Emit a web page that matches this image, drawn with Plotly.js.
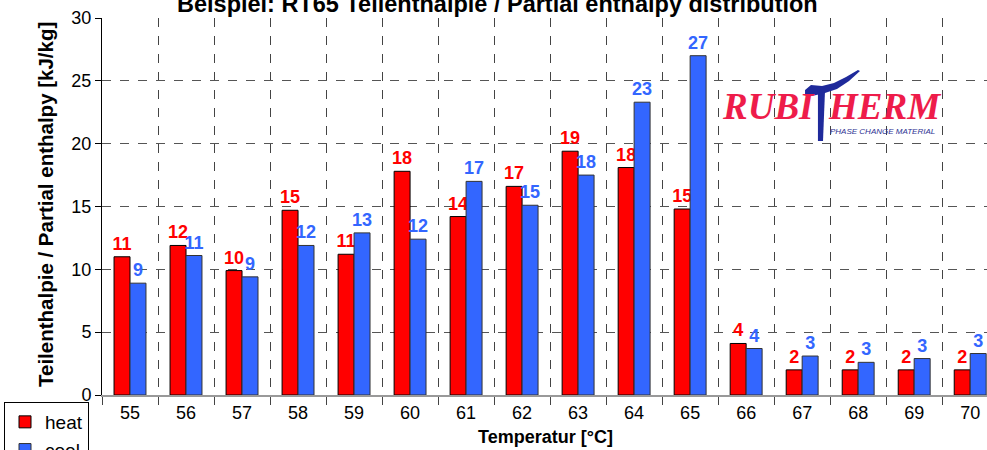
<!DOCTYPE html>
<html>
<head>
<meta charset="utf-8">
<script src="https://cdn.plot.ly/plotly-3.0.1.min.js"></script>
<style>html,body{margin:0;padding:0;background:#fff;overflow:hidden}#chart{width:987px;height:450px}</style>
</head>
<body>
<div id="chart"></div>
<script>
const categories = ["55","56","57","58","59","60","61","62","63","64","65","66","67","68","69","70"];
const heat = [11.0, 11.9, 9.9, 14.7, 11.2, 17.8, 14.2, 16.6, 19.4, 18.1, 14.8, 4.1, 2.0, 2.0, 2.0, 2.0];
const cool = [8.9, 11.1, 9.4, 11.9, 12.9, 12.4, 17.0, 15.1, 17.5, 23.3, 27.0, 3.7, 3.1, 2.6, 2.9, 3.3];
const seriesNames = ["heat", "cool"];
const titleText = "Beispiel: RT65 Teilenthalpie / Partial enthalpy distribution";
const yTitle = "Teilenthalpie / Partial enthalpy [kJ/kg]";
const xTitle = "Temperatur [°C]";

const FONT = "Liberation Sans, Arial, sans-serif";
const L = 102, R = 987, T = 18, B = 395;
const px = x => (x - L) / (R - L);
const py = y => (B - y) / (B - T);

const traces = [
  {
    type: "bar", name: seriesNames[0], x: categories, y: heat,
    text: heat.map(v => String(Math.round(v))), textposition: "outside",
    textfont: {color: "#FF0000", size: 18, family: FONT, weight: "bold"},
    constraintext: "none", cliponaxis: false,
    marker: {color: "#FF0000", line: {color: "#000000", width: 1}}
  },
  {
    type: "bar", name: seriesNames[1], x: categories, y: cool,
    text: cool.map(v => String(Math.round(v))), textposition: "outside",
    textfont: {color: "#3366FF", size: 18, family: FONT, weight: "bold"},
    constraintext: "none", cliponaxis: false,
    marker: {color: "#3366FF", line: {color: "#333333", width: 1}}
  }
];

function P(pts){ return pts.map((p,i)=> (i? "L":"M") + px(p[0]).toFixed(4) + "," + py(p[1]).toFixed(4)).join(" ") + " Z"; }
const crossbar = P([[805,90],[811,85],[822,86],[834,83],[846,77],[858,70],[860,71],[849,81],[837,89],[825,93],[812,96],[805,95]]);
const stem = P([[818,92],[825,92],[823,141],[818,141]]);

const layout = {
  width: 987, height: 450,
  margin: {l: L, r: 0, t: T, b: 450 - B, pad: 0, autoexpand: false},
  paper_bgcolor: "#ffffff", plot_bgcolor: "#ffffff",
  font: {family: FONT, color: "#000000", size: 18},
  barmode: "group", bargap: 0.43, bargroupgap: 0,
  showlegend: true,
  legend: {
    xref: "container", yref: "container",
    x: 4 / 987, y: 1 - 402 / 450, xanchor: "left", yanchor: "top",
    bordercolor: "#000000", borderwidth: 1, bgcolor: "#ffffff",
    font: {size: 19, family: FONT}, tracegroupgap: 0, itemwidth: 30
  },
  xaxis: {
    type: "category", range: [-0.5, 15.3], tickson: "boundaries",
    showgrid: true, gridcolor: "#444444", griddash: "dash", gridwidth: 1,
    ticks: "outside", ticklen: 8, tickcolor: "#444444",
    showline: true, linecolor: "#999999", linewidth: 2,
    tickfont: {size: 18, family: FONT}, zeroline: false, fixedrange: true,
    automargin: false
  },
  yaxis: {
    range: [0, 30], dtick: 5, tick0: 0,
    showgrid: true, gridcolor: "#555555", griddash: "dash", gridwidth: 1,
    ticks: "outside", ticklen: 6, tickcolor: "#000000",
    showline: true, linecolor: "#000000", linewidth: 1,
    zeroline: false, tickfont: {size: 18, family: FONT}, automargin: false
  },
  annotations: [
    {xref: "paper", yref: "paper", x: px(497), y: 1, xanchor: "center", yanchor: "bottom", yshift: -1,
     text: "<b>" + titleText + "</b>", showarrow: false, font: {size: 23.5, family: FONT, color: "#000"}},
    {xref: "paper", yref: "paper", x: px(545), y: py(437), xanchor: "center", yanchor: "middle",
     text: "<b>" + xTitle + "</b>", showarrow: false, font: {size: 18, family: FONT, color: "#000"}},
    {xref: "paper", yref: "paper", x: px(45), y: py(205), xanchor: "center", yanchor: "middle", textangle: -90,
     text: "<b>" + yTitle + "</b>", showarrow: false, font: {size: 20.5, family: FONT, color: "#000"}},
    {xref: "paper", yref: "paper", x: px(720), y: py(129), xanchor: "left", yanchor: "bottom",
     text: "<b><i>RUBI</i></b>", showarrow: false,
     font: {size: 37, family: "Liberation Serif, DejaVu Serif, serif", color: "#EE1C4A"}},
    {xref: "paper", yref: "paper", x: px(826), y: py(129), xanchor: "left", yanchor: "bottom",
     text: "<b><i>HERM</i></b>", showarrow: false,
     font: {size: 37, family: "Liberation Serif, DejaVu Serif, serif", color: "#EE1C4A"}},
    {xref: "paper", yref: "paper", x: px(828), y: py(131), xanchor: "left", yanchor: "middle",
     text: "<i>PHASE CHANGE MATERIAL</i>", showarrow: false,
     font: {size: 8, family: FONT, color: "#2E3192"}}
  ],
  shapes: [
    {type: "path", xref: "paper", yref: "paper", path: crossbar, fillcolor: "#1F2A9B", line: {width: 0}},
    {type: "path", xref: "paper", yref: "paper", path: stem, fillcolor: "#1F2A9B", line: {width: 0}}
  ]
};

Plotly.newPlot("chart", traces, layout, {staticPlot: true, displayModeBar: false});
</script>
</body>
</html>
